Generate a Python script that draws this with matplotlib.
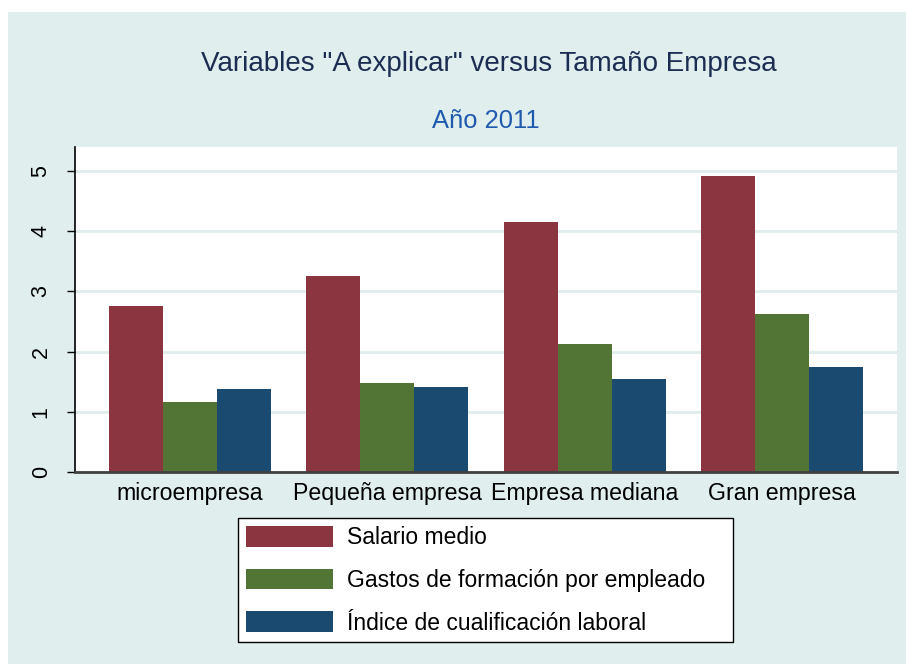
import matplotlib
matplotlib.use("Agg")
import matplotlib.pyplot as plt
import numpy as np
from matplotlib.patches import Rectangle

plt.rcParams['font.family'] = ['Liberation Sans', 'DejaVu Sans']

# datos
categorias = ['microempresa', 'Pequeña empresa', 'Empresa mediana', 'Gran empresa']
salario_medio = [2.76, 3.26, 4.15, 4.92]
gastos_formacion = [1.16, 1.48, 2.13, 2.62]
indice_cualificacion = [1.38, 1.41, 1.54, 1.74]
series = ['Salario medio', 'Gastos de formación por empleado', 'Índice de cualificación laboral']
colores = ['#8A3540', '#527535', '#1A4A70']

fig = plt.figure(figsize=(9.06, 6.64), dpi=100)
fig.patch.set_facecolor('white')
# fondo estilo stata
fig.patches.append(Rectangle((8/906, 0), 1 - 8/906, (664-12)/664, transform=fig.transFigure,
                             facecolor='#E0EEEE', edgecolor='none', zorder=-10))

ax = fig.add_axes([75/906, 1 - 472/664, (897-75)/906, (472-147)/664])
ax.set_facecolor('white')

x = np.arange(len(categorias))
w = 0.273
for i, (vals, nombre) in enumerate(zip([salario_medio, gastos_formacion, indice_cualificacion], series)):
    ax.bar(x + (i - 1) * w, vals, width=w, color=colores[i], label=nombre, zorder=3)

ax.set_xlim(-0.582, 3.582)
ax.set_ylim(0, 5.4)
ax.set_yticks([0, 1, 2, 3, 4, 5])
ax.set_yticklabels(['0', '1', '2', '3', '4', '5'], rotation=90, va='center', fontsize=15.5)
ax.set_xticks(x)
ax.set_xticklabels(categorias, fontsize=16.7)
ax.tick_params(axis='x', length=0, pad=7)
ax.tick_params(axis='y', length=5.8, width=1, pad=11, direction='out')
ax.yaxis.grid(True, color='#E0EEEE', linewidth=2, zorder=0)
ax.set_axisbelow(True)

for s in ['top', 'right']:
    ax.spines[s].set_visible(False)
ax.spines['left'].set_color('black')
ax.spines['left'].set_linewidth(1.2)
ax.spines['bottom'].set_color('#404040')
ax.spines['bottom'].set_linewidth(2)
ax.spines['bottom'].set_zorder(4)

fig.text(489/906, 1 - 64/664, 'Variables "A explicar" versus Tamaño Empresa', ha='center', va='center',
         fontsize=20, color='#1C2D52')
fig.text(486/906, 1 - 121/664, 'Año 2011', ha='center', va='center', fontsize=18.4, color='#1F5AAE')

# marco de la leyenda dibujado aparte (stata deja mas margen a la derecha)
fig.patches.append(Rectangle((238/906, 1 - 642/664), (733-238)/906, (642-518)/664, transform=fig.transFigure,
                             facecolor='white', edgecolor='black', linewidth=1, zorder=1))
leg = fig.legend(loc='upper left', bbox_to_anchor=(238/906, 1 - 518/664), ncol=1, fontsize=16.5,
                 frameon=False, handlelength=3.8, handleheight=1.0, labelspacing=0.85,
                 borderpad=0.36, handletextpad=0.6, borderaxespad=0)

fig.savefig('out.png', dpi=100, facecolor=fig.get_facecolor())
